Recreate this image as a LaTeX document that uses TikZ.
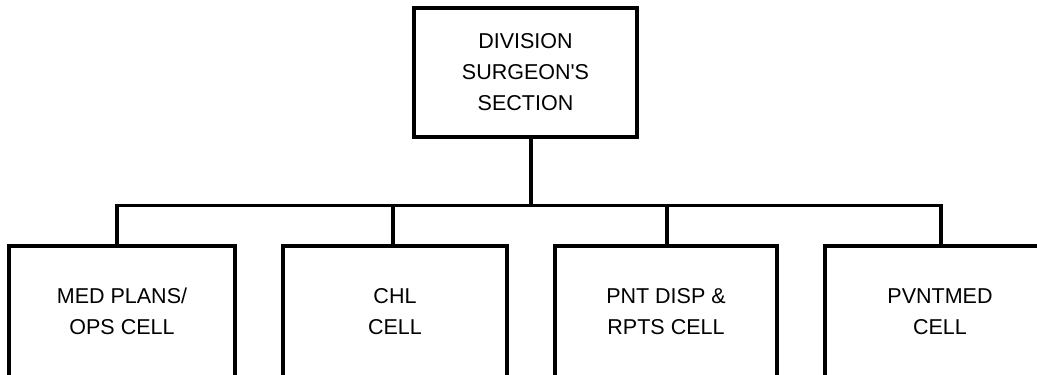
\documentclass[tikz,border=0pt]{standalone}
\usepackage{fontspec}
\setmainfont{Liberation Sans}
\begin{document}
\begin{tikzpicture}[x=1pt,y=-1pt,
  orgbox/.style={draw, line width=3.2pt, inner sep=0pt, align=center,
    font=\fontsize{21.5}{31}\selectfont},
  link/.style={line width=3.2pt}]
\useasboundingbox (0,0) rectangle (1037,375);
\clip (0,0) rectangle (1037,375);
\node[orgbox, minimum width=223pt, minimum height=129pt] (top) at (525.5,72.5) {DIVISION\\SURGEON\textquotesingle S\\SECTION};
\node[orgbox, minimum width=226pt, minimum height=131pt] (b1) at (122,311.5) {MED PLANS/\\OPS CELL};
\node[orgbox, minimum width=224pt, minimum height=131pt] (b2) at (395,311.5) {CHL\\CELL};
\node[orgbox, minimum width=222pt, minimum height=131pt] (b3) at (666,311.5) {PNT DISP \&\\RPTS CELL};
\node[orgbox, minimum width=230pt, minimum height=131pt] (b4) at (940,311.5) {PVNTMED\\CELL};
\coordinate (bus) at (531,205.7);
\coordinate (j1) at (117,205.7);
\coordinate (j2) at (393,205.7);
\coordinate (j3) at (667,205.7);
\coordinate (j4) at (941,205.7);
\draw[link] (top.south -| bus) -- (bus);
\draw[link] (j1 |- b1.north) -- (j1) -- (j4) -- (j4 |- b4.north);
\draw[link] (j2 |- b2.north) -- (j2);
\draw[link] (j3 |- b3.north) -- (j3);
\end{tikzpicture}
\end{document}
